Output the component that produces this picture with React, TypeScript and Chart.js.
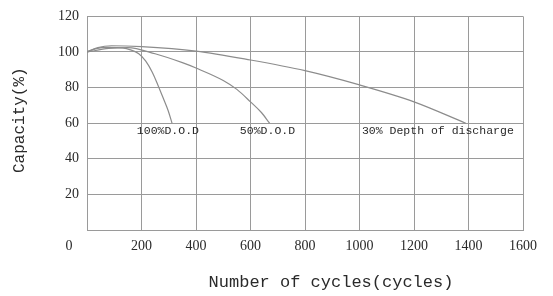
import React, { useEffect, useRef } from "react";
import { Chart, registerables } from "chart.js";

Chart.register(...registerables);

// Data (cycles, capacity %)
const dod100Cycles = [0, 30, 80, 130, 160, 190, 215, 240, 260, 280, 298, 312];
const dod100Capacity = [100, 101.8, 102.6, 102.3, 101.2, 99, 95, 88.5, 81.5, 74, 67, 60];

const dod50Cycles = [0, 80, 150, 250, 350, 400, 500, 550, 600, 640, 670];
const dod50Capacity = [100, 102, 102.5, 99, 94, 91, 84, 79, 72, 66, 60];

const dod30Cycles = [0, 40, 90, 200, 400, 600, 800, 1000, 1200, 1390];
const dod30Capacity = [100, 102.5, 103.5, 103, 100.5, 95.5, 89.5, 81.5, 72, 60];

const curveLabels = ["100%D.O.D", "50%D.O.D", "30% Depth of discharge"];
const curveLabelCycles = [183, 561, 1009];
const curveLabelCapacity = 60;

const xTitle = "Number of cycles(cycles)";
const yTitle = "Capacity(%)";
const originLabel = "0";

const xMin = 0, xMax = 1600, xStep = 200;
const yMin = 0, yMax = 120, yStep = 20;

const toPoints = (xs: number[], ys: number[]) => xs.map((x, i) => ({ x, y: ys[i] }));

const TEXT = "#2a2a2a";
const GRID = "#9a9a9a";
const CURVE = "#8c8c8c";

const textPlugin = {
  id: "textPlugin",
  afterDraw(chart: any) {
    const { ctx, chartArea, scales } = chart;
    const xs = scales.x;
    const ys = scales.y;
    ctx.save();
    ctx.fillStyle = TEXT;

    // curve labels
    ctx.font = "11.5px 'Liberation Mono'";
    ctx.textAlign = "left";
    ctx.textBaseline = "middle";
    curveLabels.forEach((t, i) => {
      ctx.fillText(t, xs.getPixelForValue(curveLabelCycles[i]), ys.getPixelForValue(curveLabelCapacity) + 8);
    });

    // origin "0"
    ctx.font = "14px 'Liberation Serif'";
    ctx.textAlign = "center";
    ctx.textBaseline = "middle";
    ctx.fillText(originLabel, chartArea.left - 18, chartArea.bottom + 16);

    // x title
    ctx.font = "17px 'Liberation Mono'";
    ctx.textAlign = "center";
    ctx.textBaseline = "middle";
    ctx.fillText(xTitle, 331, chartArea.bottom + 52);

    // y title
    ctx.translate(20, (chartArea.top + chartArea.bottom) / 2 - 3);
    ctx.rotate(-Math.PI / 2);
    ctx.font = "16px 'Liberation Mono'";
    ctx.fillText(yTitle, 0, 0);
    ctx.restore();
  },
};

export default function App() {
  const ref = useRef<HTMLCanvasElement | null>(null);

  useEffect(() => {
    document.body.style.margin = "0";
    const ds = (data: { x: number; y: number }[]) => ({
      data,
      borderColor: CURVE,
      borderWidth: 1.2,
      pointRadius: 0,
      fill: false,
      tension: 0.4,
      cubicInterpolationMode: "monotone" as const,
    });
    const chart = new Chart(ref.current as HTMLCanvasElement, {
      type: "line",
      data: {
        datasets: [
          ds(toPoints(dod100Cycles, dod100Capacity)),
          ds(toPoints(dod50Cycles, dod50Capacity)),
          ds(toPoints(dod30Cycles, dod30Capacity)),
        ],
      },
      options: {
        animation: false,
        responsive: false,
        maintainAspectRatio: false,
        layout: { padding: { top: 11, right: 30, bottom: 0, left: 0 } },
        plugins: { legend: { display: false }, tooltip: { enabled: false } },
        scales: {
          x: {
            type: "linear",
            min: xMin,
            max: xMax,
            afterFit: (s: any) => { s.height = 66; },
            ticks: {
              stepSize: xStep,
              color: TEXT,
              font: { family: "'Liberation Serif'", size: 14 },
              padding: 8,
              maxRotation: 0,
              callback: (v: any) => (v === 0 ? "" : String(v)),
            },
            grid: { color: GRID, lineWidth: 1, drawTicks: false },
            border: { color: GRID },
          },
          y: {
            type: "linear",
            min: yMin,
            max: yMax,
            afterFit: (s: any) => { s.width = 87; },
            ticks: {
              stepSize: yStep,
              color: TEXT,
              font: { family: "'Liberation Serif'", size: 14 },
              padding: 8,
              callback: (v: any) => (v === 0 ? "" : String(v)),
            },
            grid: { color: GRID, lineWidth: 1, drawTicks: false },
            border: { color: GRID },
          },
        },
      },
      plugins: [textPlugin],
    });
    return () => chart.destroy();
  }, []);

  return (
    <div style={{ position: "fixed", left: 0, top: 0, width: 553, height: 296, background: "#fff" }}>
      <canvas ref={ref} width={553} height={296} style={{ width: 553, height: 296 }} />
    </div>
  );
}
